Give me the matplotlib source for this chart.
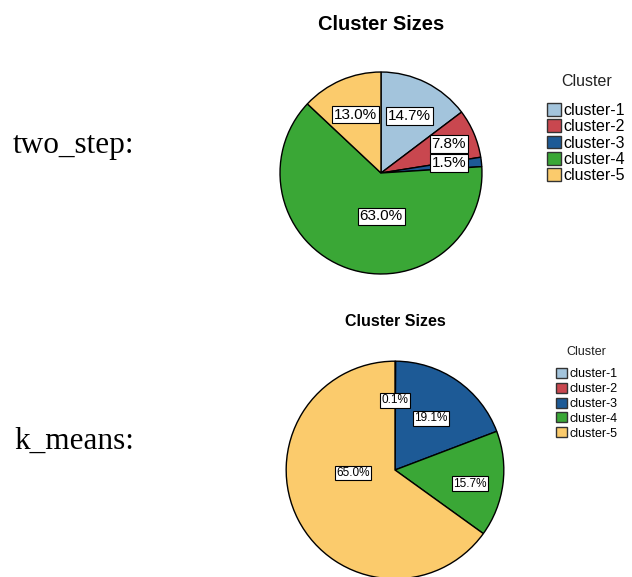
import numpy as np
import matplotlib
matplotlib.use("Agg")
import matplotlib.pyplot as plt
from matplotlib.patches import Patch

clusters = ["cluster-1", "cluster-2", "cluster-3", "cluster-4", "cluster-5"]
colors = ["#a3c4dc", "#c9474f", "#1d5a96", "#3aa736", "#fbcb6c"]

two_step = [14.7, 7.8, 1.5, 63.0, 13.0]
k_means = [0.0, 0.1, 19.1, 15.7, 65.0]

W, H = 632, 577
fig = plt.figure(figsize=(W / 100, H / 100), dpi=100)


def pie_axes(cx, cy, r):
    # axes in pixel units, origin top-left
    return fig.add_axes([(cx - r) / W, 1 - (cy + r) / H, 2 * r / W, 2 * r / H])


def draw_pie(ax, values, dists, fs):
    wedges, _ = ax.pie(values, colors=colors, startangle=90, counterclock=False,
                       radius=1, wedgeprops=dict(edgecolor="black", linewidth=1.0))
    ax.set_xlim(-1.02, 1.02)
    ax.set_ylim(-1.02, 1.02)
    ax.set_aspect("equal")
    for w, v, d in zip(wedges, values, dists):
        if v <= 0 or d is None:
            continue
        dist, shift = d
        ang = np.deg2rad((w.theta1 + w.theta2) / 2 + shift)
        ax.text(dist * np.cos(ang), dist * np.sin(ang), f"{v:.1f}%",
                ha="center", va="center", fontsize=fs, family="Liberation Sans",
                bbox=dict(boxstyle="square,pad=0.12", fc="white", ec="black", lw=0.8))
    return wedges


def legend(x, y, title_y, fs, spacing):
    leg = fig.legend(handles=[Patch(fc=c, ec="#333333", lw=1) for c in colors],
                     labels=clusters, loc="upper left",
                     bbox_to_anchor=(x / W, 1 - y / H), frameon=False,
                     handlelength=0.85, handleheight=0.85, handletextpad=0.2,
                     labelspacing=spacing, borderaxespad=0, borderpad=0,
                     prop=dict(family="Liberation Sans", size=fs))
    fig.canvas.draw()
    bb = leg.get_window_extent()
    fig.text((bb.x0 + bb.x1) / 2 / W, 1 - title_y / H, "Cluster", ha="center",
             va="center", fontsize=fs, family="Liberation Sans", color="#222222")


# two_step pie
ax1 = pie_axes(381, 173, 103)
draw_pie(ax1, two_step,
         [(0.63, 0), (0.73, 0), (0.68, 2), (0.43, 20), (0.63, 0)], 11)
fig.text(381 / W, 1 - 24 / H, "Cluster Sizes", ha="center", va="center",
         fontsize=14.5, fontweight="bold", family="Liberation Sans")
legend(547, 103, 82, 11.5, 0.08)

# k_means pie
ax2 = pie_axes(395, 470, 111)
draw_pie(ax2, k_means,
         [None, (0.64, 0), (0.58, 0), (0.70, -3), (0.39, -23)], 8.5)
fig.text(395 / W, 1 - 322 / H, "Cluster Sizes", ha="center", va="center",
         fontsize=11.5, fontweight="bold", family="Liberation Sans")
legend(556, 368, 352, 9, 0.2)

fig.text(13 / W, 1 - 153 / H, "two_step:", ha="left", va="baseline",
         fontsize=22.5, family="Liberation Serif")
fig.text(14 / W, 1 - 449 / H, "k_means:", ha="left", va="baseline",
         fontsize=22.5, family="Liberation Serif")

fig.savefig("out.png", dpi=100)
